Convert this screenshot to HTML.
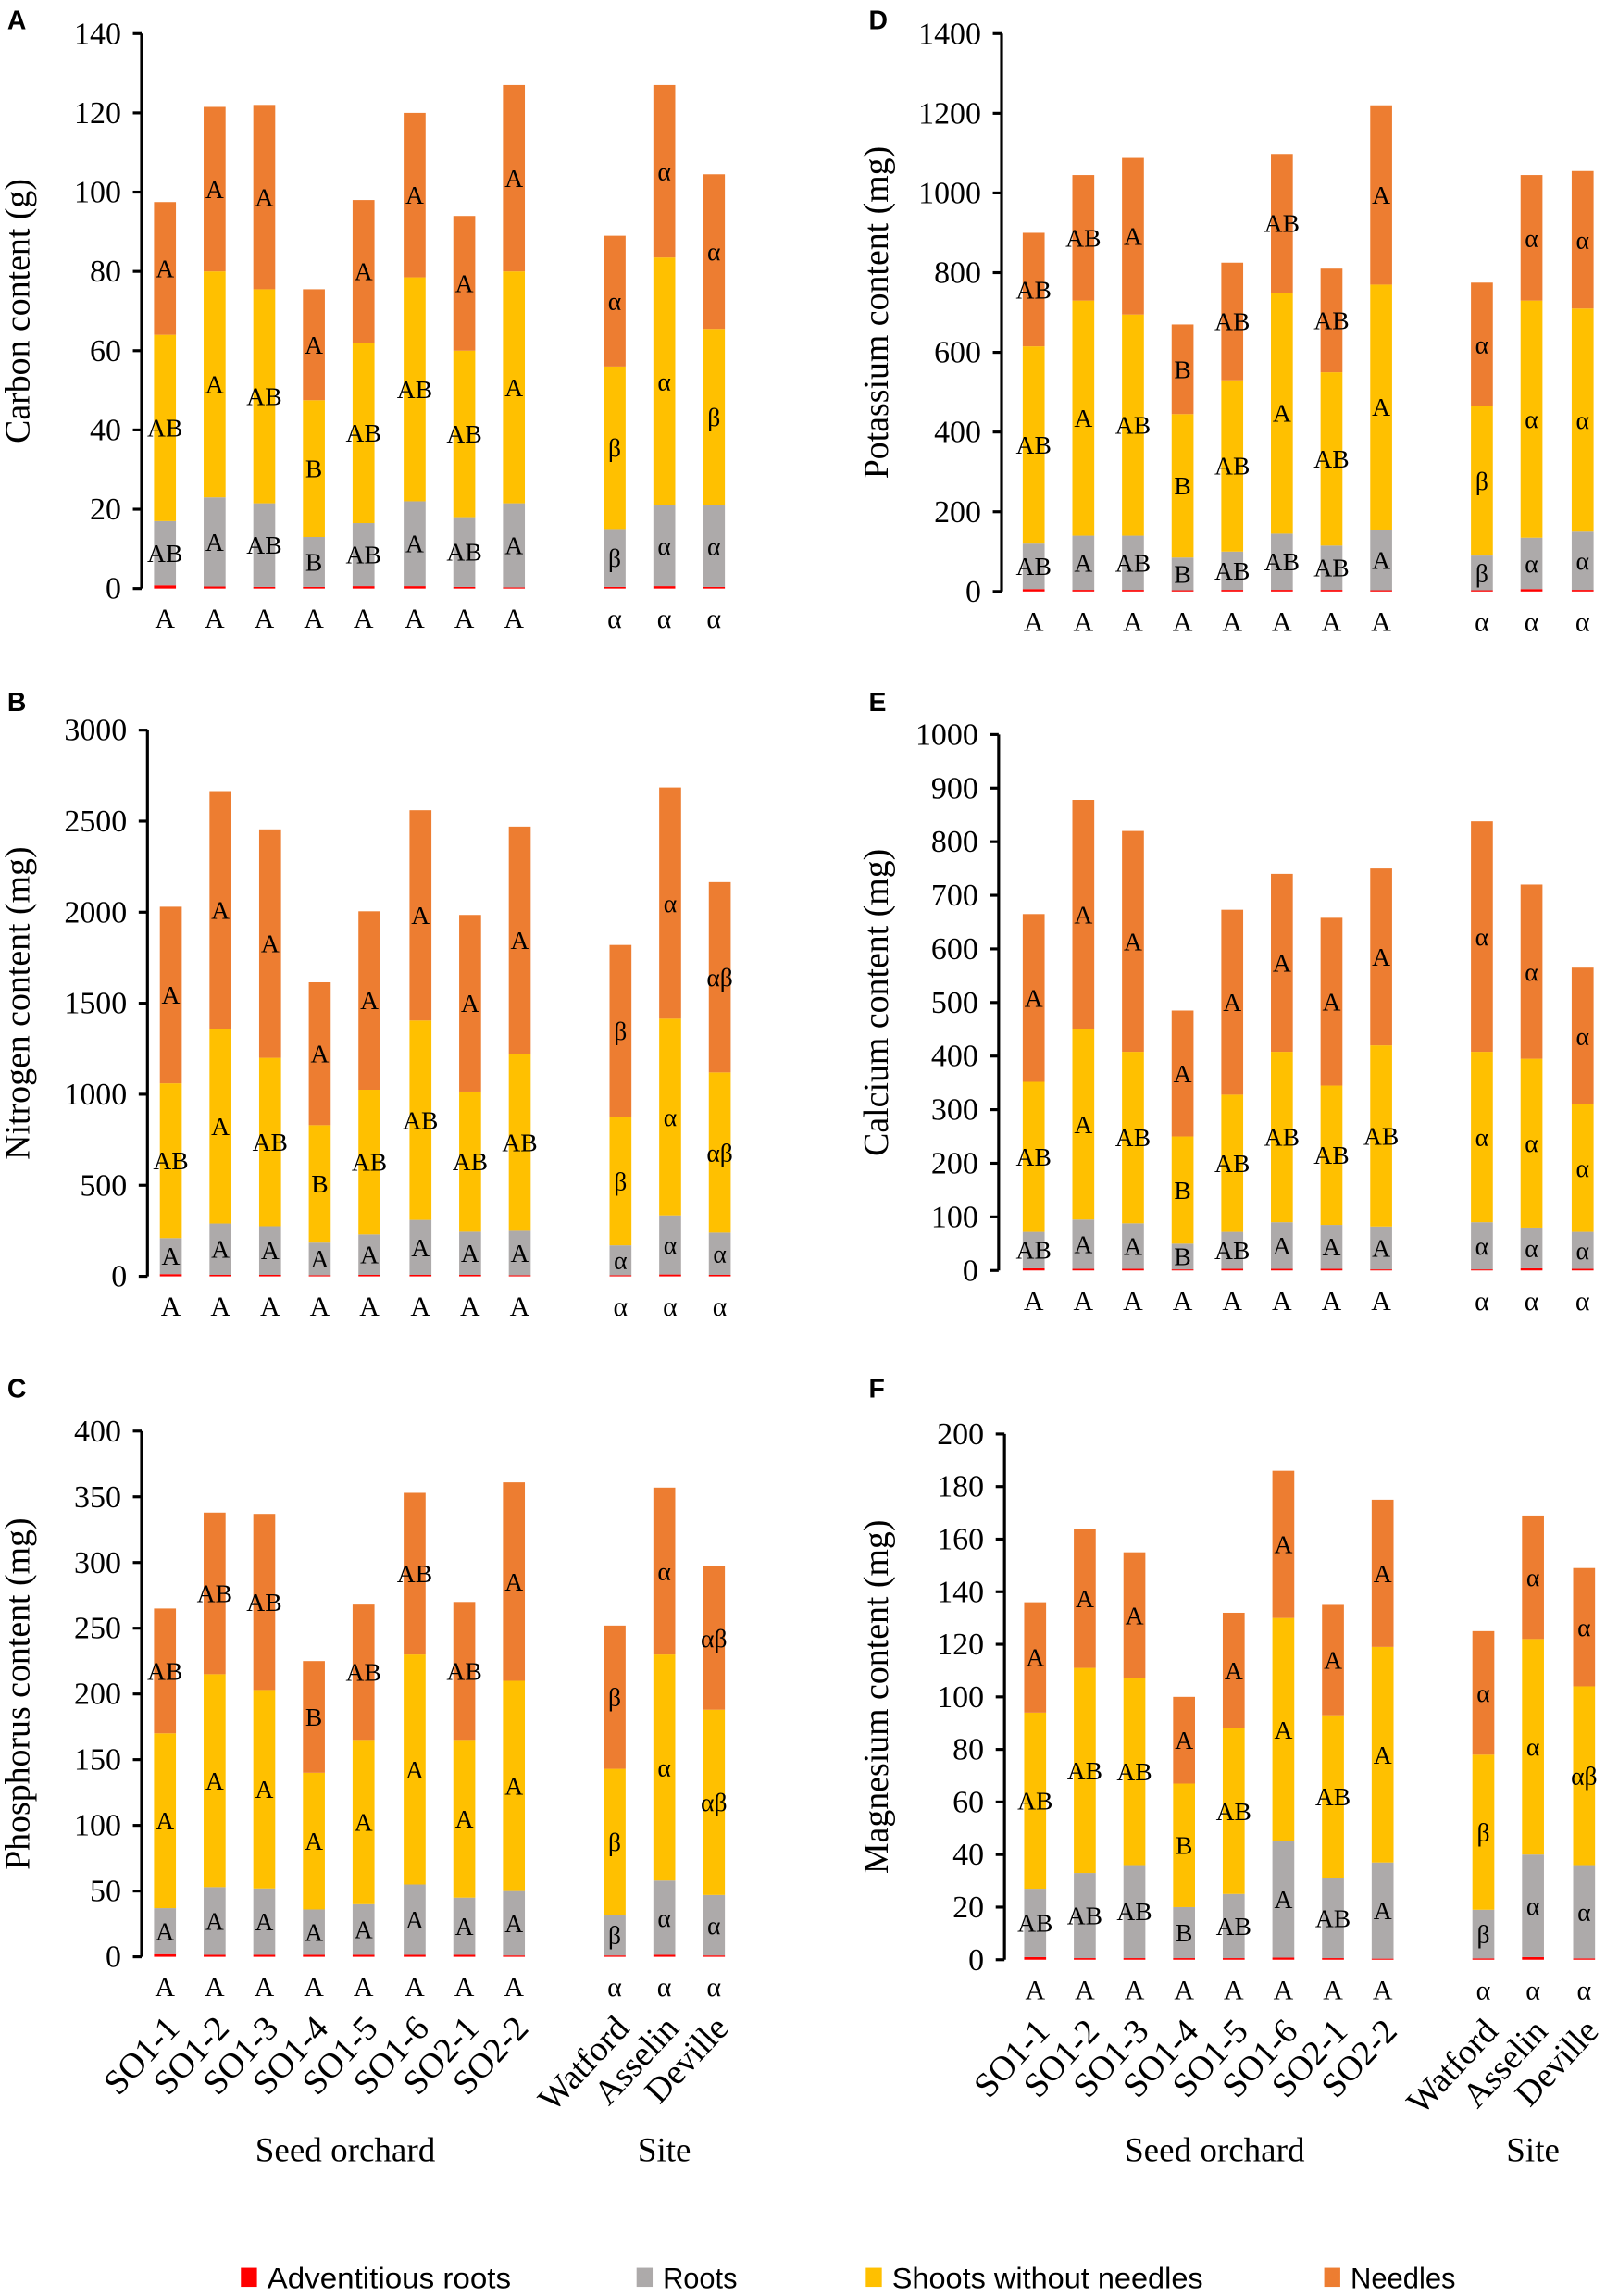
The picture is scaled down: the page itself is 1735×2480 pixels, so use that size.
<!DOCTYPE html>
<html><head><meta charset="utf-8"><style>
html,body{margin:0;padding:0;background:#fff;}
svg{display:block;}
</style></head><body>
<svg id="chart" xmlns="http://www.w3.org/2000/svg" width="1735" height="2480" viewBox="0 0 1100 1572.3" preserveAspectRatio="none"></svg>
<script>
const categories = ["SO1-1","SO1-2","SO1-3","SO1-4","SO1-5","SO1-6","SO2-1","SO2-2","Watford","Asselin","Deville"];
const bottomLetters = ["A","A","A","A","A","A","A","A","α","α","α"];

// Panel A: Carbon (g)
const carbonAdv = [0.8,0.5,0.4,0.4,0.6,0.6,0.4,0.3,0.4,0.6,0.4];
const carbonRootsTop = [17,23,21.5,13,16.5,22,18,21.5,15,21,21];
const carbonShootsTop = [64,80,75.5,47.5,62,78.5,60,80,56,83.5,65.5];
const carbonTotal = [97.5,121.5,122,75.5,98,120,94,127,89,127,104.5];
const carbonTicks = [0,20,40,60,80,100,120,140];
const carbonRootLbl = ["AB","A","AB","B","AB","A","AB","A","β","α","α"];
const carbonShootLbl = ["AB","A","AB","B","AB","AB","AB","A","β","α","β"];
const carbonNeedleLbl = ["A","A","A","A","A","A","A","A","α","α","α"];

// Panel D: Potassium (mg)
const potAdv = [6,4,4,3,4,4,4,3,3,6,4];
const potRootsTop = [120,140,140,85,100,145,115,155,90,135,150];
const potShootsTop = [615,730,695,445,530,750,550,770,465,730,710];
const potTotal = [900,1045,1088,670,825,1098,810,1220,775,1045,1055];
const potTicks = [0,200,400,600,800,1000,1200,1400];
const potRootLbl = ["AB","A","AB","B","AB","AB","AB","A","β","α","α"];
const potShootLbl = ["AB","A","AB","B","AB","A","AB","A","β","α","α"];
const potNeedleLbl = ["AB","AB","A","B","AB","AB","AB","A","α","α","α"];

// Panel B: Nitrogen (mg)
const nAdv = [12,8,8,6,8,8,8,6,6,10,8];
const nRootsTop = [210,290,275,185,230,310,245,250,170,335,240];
const nShootsTop = [1060,1360,1200,830,1025,1405,1015,1220,875,1415,1120];
const nTotal = [2030,2665,2455,1615,2005,2560,1985,2470,1820,2685,2165];
const nTicks = [0,500,1000,1500,2000,2500,3000];
const nRootLbl = ["A","A","A","A","A","A","A","A","α","α","α"];
const nShootLbl = ["AB","A","AB","B","AB","AB","AB","AB","β","α","αβ"];
const nNeedleLbl = ["A","A","A","A","A","A","A","A","β","α","αβ"];

// Panel E: Calcium (mg)
const caAdv = [4,3,3,2,3,3,3,2,2,4,3];
const caRootsTop = [72,95,88,50,72,90,85,82,90,80,72];
const caShootsTop = [352,450,408,250,328,408,345,420,408,395,310];
const caTotal = [665,878,820,485,673,740,658,750,838,720,565];
const caTicks = [0,100,200,300,400,500,600,700,800,900,1000];
const caRootLbl = ["AB","A","A","B","AB","A","A","A","α","α","α"];
const caShootLbl = ["AB","A","AB","B","AB","AB","AB","AB","α","α","α"];
const caNeedleLbl = ["A","A","A","A","A","A","A","A","α","α","α"];

// Panel C: Phosphorus (mg)
const pAdv = [2,1.5,1.5,1.5,1.5,1.5,1.5,1,1,1.5,1];
const pRootsTop = [37,53,52,36,40,55,45,50,32,58,47];
const pShootsTop = [170,215,203,140,165,230,165,210,143,230,188];
const pTotal = [265,338,337,225,268,353,270,361,252,357,297];
const pTicks = [0,50,100,150,200,250,300,350,400];
const pRootLbl = ["A","A","A","A","A","A","A","A","β","α","α"];
const pShootLbl = ["A","A","A","A","A","A","A","A","β","α","αβ"];
const pNeedleLbl = ["AB","AB","AB","B","AB","AB","AB","A","β","α","αβ"];

// Panel F: Magnesium (mg)
const mgAdv = [1,0.6,0.6,0.6,0.6,0.8,0.6,0.4,0.5,1,0.5];
const mgRootsTop = [27,33,36,20,25,45,31,37,19,40,36];
const mgShootsTop = [94,111,107,67,88,130,93,119,78,122,104];
const mgTotal = [136,164,155,100,132,186,135,175,125,169,149];
const mgTicks = [0,20,40,60,80,100,120,140,160,180,200];
const mgRootLbl = ["AB","AB","AB","B","AB","A","AB","A","β","α","α"];
const mgShootLbl = ["AB","AB","AB","B","AB","A","AB","A","β","α","αβ"];
const mgNeedleLbl = ["A","A","A","A","A","A","A","A","α","α","α"];

const NS = "http://www.w3.org/2000/svg";
const svg = document.getElementById("chart");
const SERIF = '"Liberation Serif", serif';
const SANS = '"Liberation Sans", sans-serif';
const COL = {adv:"#FF0000", roots:"#ADAAAA", shoots:"#FFC000", needles:"#ED7D31"};

function mk(tag, attrs, parent){
  const e = document.createElementNS(NS, tag);
  for (const k in attrs) e.setAttribute(k, attrs[k]);
  (parent||svg).appendChild(e);
  return e;
}
function txt(s, attrs, parent){
  const e = mk("text", attrs, parent);
  e.textContent = s;
  return e;
}

function panel(cfg){
  const g = mk("g", {});
  
  
  const maxV = cfg.ticks[cfg.ticks.length-1];
  const y = v => cfg.y0 - (v/maxV)*(cfg.y0 - cfg.yTop);
  const xc = i => cfg.xs[i];
  const pl = txt(cfg.letter, {x:cfg.letterX, y:cfg.letterY, "font-family":SANS, "font-weight":"bold", "font-size":18}, g);
  
  
  const ax = mk("line", {x1:cfg.axisX, y1:cfg.yTop, x2:cfg.axisX, y2:cfg.y0, stroke:"#000", "stroke-width":2}, g);
  
  
  cfg.ticks.forEach(t => {
    const tk = mk("line", {x1:cfg.axisX-6, y1:y(t), x2:cfg.axisX, y2:y(t), stroke:"#000", "stroke-width":2}, g);
    
    
    const tl = txt(String(t), {x:cfg.axisX-14, y:y(t)+7, "text-anchor":"end", "font-family":SERIF, "font-size":21.5}, g);
    
    
  });
  const yt = txt(cfg.title, {x:0, y:0, transform:`translate(${cfg.titleX},${(cfg.y0+cfg.yTop)/2}) rotate(-90)`, "text-anchor":"middle", "font-family":SERIF, "font-size":24}, g);
  
  
  const bw = 15;
  categories.forEach((c,i) => {
    const segs = [
      [0, cfg.adv[i], COL.adv, "bar-adventitious-roots"],
      [cfg.adv[i], cfg.roots[i], COL.roots, "bar-roots"],
      [cfg.roots[i], cfg.shoots[i], COL.shoots, "bar-shoots"],
      [cfg.shoots[i], cfg.total[i], COL.needles, "bar-needles"]
    ];
    segs.forEach(s => {
      const r = mk("rect", {x:xc(i)-bw/2, y:y(s[1]), width:bw, height:Math.max(0.5, y(s[0])-y(s[1])), fill:s[2]}, g);
      
      
    });
    const lbls = [
      [cfg.rootLbl[i], (cfg.adv[i]+cfg.roots[i])/2],
      [cfg.shootLbl[i], (cfg.roots[i]+cfg.shoots[i])/2],
      [cfg.needleLbl[i], (cfg.shoots[i]+cfg.total[i])/2]
    ];
    lbls.forEach(l => {
      const t = txt(l[0], {x:xc(i), y:y(l[1])+6, "text-anchor":"middle", "font-family":SERIF, "font-size":17.5, fill:"#000"}, g);
      
      
    });
    const bl = txt(bottomLetters[i], {x:xc(i), y:cfg.y0+27, "text-anchor":"middle", "font-family":SERIF, "font-size":19}, g);
    
    
    if (cfg.catLabels){
      const cl = txt(c, {x:0, y:0, transform:`translate(${xc(i)+11},${cfg.y0+50}) rotate(-47)`, "text-anchor":"end", "font-family":SERIF, "font-size":24}, g);
      
      
    }
  });
  if (cfg.catLabels){
    const g1 = txt("Seed orchard", {x:(xc(0)+xc(7))/2+4, y:1480, "text-anchor":"middle", "font-family":SERIF, "font-size":23.5}, g);
    
    
    const g2 = txt("Site", {x:xc(9), y:1480, "text-anchor":"middle", "font-family":SERIF, "font-size":23.5}, g);
    
    
  }
}

const xsL = [113,147,181,215,249,284,318,352,421,455,489];
const xsR = [708,742,776,810,844,878,912,946,1015,1049,1084];

panel({name:"panel-a-carbon", letter:"A", letterX:5, letterY:20, axisX:97, yTop:23, y0:403, xs:xsL, titleX:20, title:"Carbon content (g)", ticks:carbonTicks,
  adv:carbonAdv, roots:carbonRootsTop, shoots:carbonShootsTop, total:carbonTotal, rootLbl:carbonRootLbl, shootLbl:carbonShootLbl, needleLbl:carbonNeedleLbl});
panel({name:"panel-d-potassium", letter:"D", letterX:595, letterY:20, axisX:686, yTop:23, y0:405, xs:xsR, titleX:608, title:"Potassium content (mg)", ticks:potTicks,
  adv:potAdv, roots:potRootsTop, shoots:potShootsTop, total:potTotal, rootLbl:potRootLbl, shootLbl:potShootLbl, needleLbl:potNeedleLbl});
panel({name:"panel-b-nitrogen", letter:"B", letterX:5, letterY:487, axisX:101, yTop:500, y0:874, xs:xsL.map(v=>v+4), titleX:20, title:"Nitrogen content (mg)", ticks:nTicks,
  adv:nAdv, roots:nRootsTop, shoots:nShootsTop, total:nTotal, rootLbl:nRootLbl, shootLbl:nShootLbl, needleLbl:nNeedleLbl});
panel({name:"panel-e-calcium", letter:"E", letterX:595, letterY:487, axisX:684, yTop:503, y0:870, xs:xsR, titleX:608, title:"Calcium content (mg)", ticks:caTicks,
  adv:caAdv, roots:caRootsTop, shoots:caShootsTop, total:caTotal, rootLbl:caRootLbl, shootLbl:caShootLbl, needleLbl:caNeedleLbl});
panel({name:"panel-c-phosphorus", letter:"C", letterX:5, letterY:957, axisX:97, yTop:980, y0:1340, xs:xsL, titleX:20, title:"Phosphorus content (mg)", ticks:pTicks, catLabels:true,
  adv:pAdv, roots:pRootsTop, shoots:pShootsTop, total:pTotal, rootLbl:pRootLbl, shootLbl:pShootLbl, needleLbl:pNeedleLbl});
panel({name:"panel-f-magnesium", letter:"F", letterX:595, letterY:957, axisX:688, yTop:982, y0:1342, xs:xsR.map(v=>v+1), titleX:608, title:"Magnesium content (mg)", ticks:mgTicks, catLabels:true,
  adv:mgAdv, roots:mgRootsTop, shoots:mgShootsTop, total:mgTotal, rootLbl:mgRootLbl, shootLbl:mgShootLbl, needleLbl:mgNeedleLbl});

// legend
const legendNames = ["Adventitious roots","Roots","Shoots without needles","Needles"];
const legendColors = [COL.adv, COL.roots, COL.shoots, COL.needles];
const legendX = [165,436,593,907];
const legendW = [167,51,213,72];
const lg = mk("g", {});


legendNames.forEach((n,i) => {
  const sw = mk("rect", {x:legendX[i], y:1553, width:11, height:13, fill:legendColors[i]}, lg);
  
  
  const t = txt(n, {x:legendX[i]+18, y:1567, "font-family":SANS, "font-size":20, textLength:legendW[i], lengthAdjust:"spacingAndGlyphs"}, lg);
  
  
});
</script>
</body></html>
